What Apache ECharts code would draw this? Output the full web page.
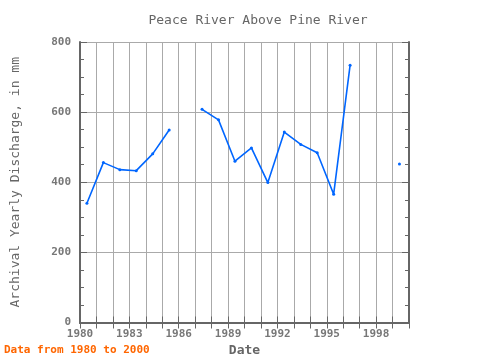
<!DOCTYPE html>
<html><head><meta charset="utf-8">
<script src="https://cdn.jsdelivr.net/npm/echarts@6/dist/echarts.min.js"></script>
<style>html,body{margin:0;padding:0;background:#fff}#c{width:480px;height:360px}</style>
</head><body><div id="c"></div>
<script>
var years = [1980.42,1981.42,1982.42,1983.42,1984.42,1985.42,1986.42,1987.42,1988.42,1989.42,1990.42,1991.42,1992.42,1993.42,1994.42,1995.42,1996.42,1997.42,1998.42,1999.42];
var discharge = [340,456,436,433,481,549,null,608,578,460,498,399,543,508,484,366,734,null,null,452];
var xTicks = [1980,1983,1986,1989,1992,1995,1998];

var data = years.map(function(y,i){return [y, discharge[i]];});
var font = 'DejaVu Sans Mono';
var chart = echarts.init(document.getElementById('c'));
var frame = {show:true, lineStyle:{color:'#666', width:2}};
chart.setOption({
  animation:false,
  backgroundColor:'#fff',
  title:{text:'Peace River Above Pine River', left:253, textAlign:'center', top:9,
    textStyle:{fontFamily:font, fontSize:13, fontWeight:'normal', color:'#666'}},
  graphic:[{type:'text', left:4, top:345, style:{text:'Data from 1980 to 2000', fill:'#ff6600',
    font:'bold 11px "DejaVu Sans Mono"'}}],
  grid:{left:80, right:71, top:42, bottom:37.5, outerBoundsMode:'none', containLabel:false},
  xAxis:[{type:'value', min:1980, max:2000, interval:3, position:'bottom',
    name:'Date', nameLocation:'middle', nameGap:19,
    nameTextStyle:{fontFamily:font, fontSize:13, fontWeight:'bold', color:'#666'},
    axisLine:frame,
    axisTick:{inside:true, length:6, lineStyle:{color:'#666'}},
    minorTick:{show:true, splitNumber:3, length:6, lineStyle:{color:'#666'}},
    splitLine:{show:true, lineStyle:{color:'#aaa', width:1}},
    minorSplitLine:{show:true, lineStyle:{color:'#aaa', width:1}},
    axisLabel:{fontFamily:font, fontSize:11, fontWeight:'bold', color:'#777', margin:6,
      formatter:function(v){return xTicks.indexOf(v)>=0? String(v):'';}}
  },{type:'value', min:1980, max:2000, interval:3, position:'top',
    axisLine:frame,
    axisTick:{inside:true, length:6, lineStyle:{color:'#666'}},
    minorTick:{show:true, splitNumber:3, length:6, lineStyle:{color:'#666'}},
    splitLine:{show:false}, axisLabel:{show:false}
  }],
  yAxis:[{type:'value', min:0, max:800, interval:200, position:'left',
    name:'Archival Yearly Discharge, in mm', nameLocation:'middle', nameGap:58,
    nameTextStyle:{fontFamily:font, fontSize:13, color:'#666'},
    axisLine:frame,
    axisTick:{inside:true, length:7, lineStyle:{color:'#666'}},
    minorTick:{show:true, splitNumber:4, length:4, lineStyle:{color:'#666'}},
    splitLine:{show:true, lineStyle:{color:'#aaa', width:1}},
    axisLabel:{fontFamily:font, fontSize:11, fontWeight:'bold', color:'#777', margin:9}
  },{type:'value', min:0, max:800, interval:200, position:'right',
    axisLine:frame,
    axisTick:{inside:true, length:7, lineStyle:{color:'#666'}},
    minorTick:{show:true, splitNumber:4, length:4, lineStyle:{color:'#666'}},
    splitLine:{show:false}, axisLabel:{show:false}
  }],
  series:[{type:'line', data:data, connectNulls:false, symbol:'circle', symbolSize:3,
    showSymbol:true, lineStyle:{color:'#0066ff', width:1.6}, itemStyle:{color:'#0066ff'}}]
});
</script></body></html>
